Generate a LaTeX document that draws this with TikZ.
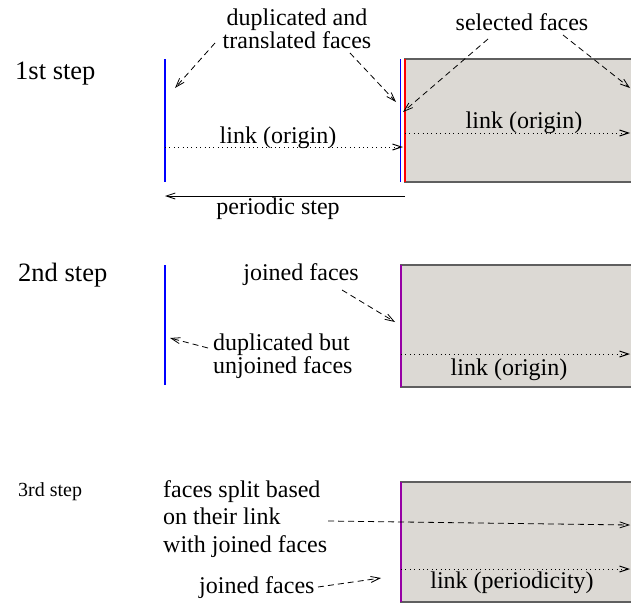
\documentclass[tikz,border=0pt]{standalone}
\usepackage{fontspec}
\setmainfont{Liberation Serif}
\usetikzlibrary{arrows.meta}

\definecolor{facegray}{RGB}{220,217,212}
\definecolor{faceedge}{RGB}{95,95,95}
\definecolor{facepurple}{RGB}{150,0,165}

\begin{document}
\begin{tikzpicture}[
    x=1pt, y=-1pt,
    >={Straight Barb[length=9pt,width=6pt]},
    textlabel/.style={font=\fontsize{24}{23}\selectfont, inner sep=0pt, anchor=base},
    steplabel/.style={font=\fontsize{26.5}{26}\selectfont, inner sep=0pt, anchor=base west},
    dashedarrow/.style={->, line width=0.8pt, dash pattern=on 6pt off 4pt},
    dottedarrow/.style={->, line width=1pt, dash pattern=on 1pt off 3.4pt},
    facebox/.style={fill=facegray, draw=faceedge, line width=1.2pt},
    bluefaces/.style={draw=blue, line width=1.5pt},
    redfaces/.style={draw=red, line width=1.5pt},
    purplefaces/.style={draw=facepurple, line width=1.8pt}
]
\useasboundingbox (0,0) rectangle (631,605);
\clip (0,0) rectangle (631,605);

% 1st step
\node[steplabel] (step1) at (15,79) {1st step};
\draw[facebox] (405,59) rectangle (645,182);
\draw[bluefaces] (165,59) -- (165,182);
\draw[bluefaces] (400.5,59) -- (400.5,182);
\draw[redfaces] (405,59) -- (405,182);

% multi-line nodes: base = last line
\node[textlabel, align=center] (duplfaces) at (297,48) {duplicated and\\translated faces};
\node[textlabel] (selfaces) at (522,30) {selected faces};
\node[textlabel] (linkleft) at (278,143) {link (origin)};
\node[textlabel] (linkright) at (524,128) {link (origin)};
\node[textlabel] (perstep) at (278,214) {periodic step};

\coordinate (dupla) at (215,43);  \coordinate (duplaend) at (175,88);
\coordinate (duplb) at (350,53);  \coordinate (duplbend) at (396,102);
\coordinate (sela) at (488,39);   \coordinate (selaend) at (403,112);
\coordinate (selb) at (563,35);   \coordinate (selbend) at (630,88);
\coordinate (origa) at (165,147); \coordinate (origaend) at (403,147);
\coordinate (origb) at (405,133); \coordinate (origbend) at (630,133);
\coordinate (pera) at (405,196);  \coordinate (peraend) at (165,196);

\draw[dashedarrow] (dupla) -- (duplaend);
\draw[dashedarrow] (duplb) -- (duplbend);
\draw[dashedarrow] (sela) -- (selaend);
\draw[dashedarrow] (selb) -- (selbend);
\draw[dottedarrow] (origa) -- (origaend);
\draw[dottedarrow] (origb) -- (origbend);
\draw[->, line width=0.8pt] (pera) -- (peraend);

% 2nd step
\node[steplabel] (step2) at (18,281) {2nd step};
\draw[bluefaces] (165,265) -- (165,385);
\draw[facebox] (401,265) rectangle (645,387);
\draw[purplefaces] (401,265) -- (401,387);

\node[textlabel] (joinedtwo) at (301,280) {joined faces};
\node[textlabel, align=left, anchor=base west] (unjoined) at (213,373) {duplicated but\\unjoined faces};
\node[textlabel] (linkmid) at (509,375) {link (origin)};

\coordinate (joina) at (342,290);  \coordinate (joinaend) at (395,322);
\coordinate (unja) at (208,348);   \coordinate (unjaend) at (170,338);
\coordinate (origc) at (401,354);  \coordinate (origcend) at (630,354);

\draw[dashedarrow] (joina) -- (joinaend);
\draw[dashedarrow] (unja) -- (unjaend);
\draw[dottedarrow] (origc) -- (origcend);

% 3rd step
\node[font=\fontsize{20}{20}\selectfont, inner sep=0pt, anchor=base west] (step3) at (18,496) {3rd step};
\draw[facebox] (401,482) rectangle (645,602);
\draw[purplefaces] (401,482) -- (401,602);

\node[font=\fontsize{24}{27.5}\selectfont, inner sep=0pt, align=left, anchor=base west] (splitfaces) at (163,552) {faces split based\\on their link\\with joined faces};
\node[textlabel, anchor=base west] (joinedthree) at (199,593) {joined faces};
\node[textlabel] (linkperiod) at (512,588) {link (periodicity)};

\coordinate (splita) at (328,521);  \coordinate (splitaend) at (630,525);
\coordinate (joinb) at (318,587);   \coordinate (joinbend) at (381,578);
\coordinate (periodc) at (401,569); \coordinate (periodcend) at (630,569);

\draw[dashedarrow] (splita) -- (splitaend);
\draw[dashedarrow] (joinb) -- (joinbend);
\draw[dottedarrow] (periodc) -- (periodcend);
\end{tikzpicture}
\end{document}
